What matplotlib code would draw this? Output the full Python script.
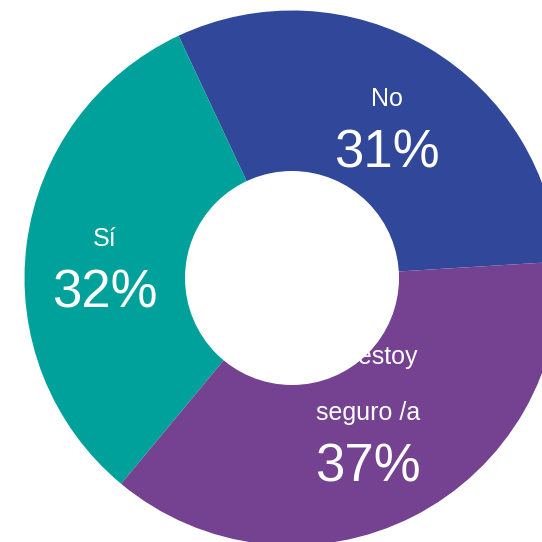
import matplotlib
matplotlib.use("Agg")
import matplotlib.pyplot as plt
from matplotlib.patches import Circle

plt.rcParams['font.family'] = ['Liberation Sans', 'DejaVu Sans']

# Respuestas de la encuesta (%)
categorias = ['No', 'Sí', 'No estoy\n\nseguro /a']
porcentajes = [31, 32, 37]
colores = ['#30479A', '#00A19A', '#744290']

W = H = 542
centro = (292, H - 278)
radio = 267.5
radio_hueco = 107

# posición de cada etiqueta (x, línea base del nombre, línea base del %)
pos_etiquetas = [(387, H - 106, H - 168),
                 (105, H - 246, H - 308),
                 (368, H - 420, H - 482)]

fig = plt.figure(figsize=(W / 100, H / 100), dpi=100)
ax = fig.add_axes([0, 0, 1, 1])

ax.pie(porcentajes, colors=colores, startangle=3.5, counterclock=True,
       center=centro, radius=radio, frame=True,
       wedgeprops=dict(linewidth=0))
ax.set_xlim(0, W)
ax.set_ylim(0, H)
ax.set_aspect('equal')
ax.axis('off')

for cat, pct, (x, y_cat, y_pct) in zip(categorias, porcentajes, pos_etiquetas):
    ax.text(x, y_cat, cat, color='white', fontsize=18, ha='center',
            va='baseline', multialignment='center', linespacing=1.2, zorder=3)
    ax.text(x, y_pct, f'{pct}%', color='white', fontsize=38, ha='center',
            va='baseline', zorder=3)

# hueco central del anillo, por encima de las etiquetas
ax.add_patch(Circle(centro, radio_hueco, facecolor='white', edgecolor='none', zorder=4))

fig.savefig('out.png', dpi=100, facecolor='white')
